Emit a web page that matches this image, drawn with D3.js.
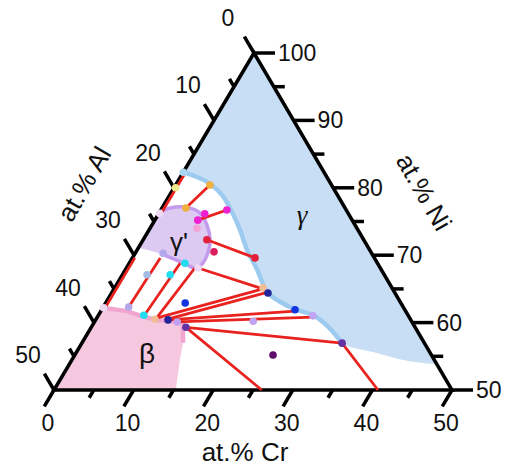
<!DOCTYPE html>
<html>
<head>
<meta charset="utf-8">
<script src="https://cdn.jsdelivr.net/npm/d3@7"></script>
<style>
  body { margin: 0; background: #fff; }
  text { font-family: "Liberation Sans", Arial, sans-serif; fill: #111; }
</style>
</head>
<body>
<svg id="chart" width="508" height="468"></svg>
<script>
// compositions are [at.% Cr, at.% Al], Ni is the balance
const gammaLine = [[0,17.7],[2.1,16.3],[4.2,15.2],[6.6,14.5],[9.1,14.5],[11.4,14.8],[13.8,15.4],[16.6,15.6],
  [18.9,16.0],[20.2,15.8],[21.8,15.1],[24.2,13.8],[27.0,11.9],[29.7,10.9],[32.7,10.35]];
const gammaEdge = [[37.8,6.7],[41.6,3.95],[44.9,1.15],[46.1,0]];
const gammaPrime = [[0,23.7],[1.0,22.0],[3.1,19.8],[5.15,18.6],[6.9,18.6],[8.4,19.3],[9.1,20.5],[9.2,22.1],
  [8.6,23.3],[7.1,24.2],[3.6,26.3],[0,28.9]];
const betaLine = [[0,37.8],[3.3,35.0],[5.7,33.4],[7.7,31.9],[9.7,30.1],[11.1,28.8],[12.7,30.3]];
const betaEdge = [[13.6,32.0],[15.3,34.7]];

const tieLines = [
  [[0.3,17.8],[0.3,23.6]],
  [[4.3,15.3],[3.0,20.0]],
  [[8.3,15.0],[5.4,19.4]],
  [[8.0,19.7],[15.4,15.0]],
  [[9.0,22.9],[18.7,16.3]],
  [[0.3,30.1],[0.3,37.5]],
  [[3.5,26.9],[3.2,34.5]],
  [[6.4,24.8],[5.8,33.0]],
  [[8.6,23.3],[7.5,31.9]],
  [[7.6,31.7],[18.7,16.3]],
  [[8.7,30.9],[19.3,16.3]],
  [[9.1,30.5],[24.4,13.9]],
  [[10.4,29.5],[27.1,12.1]],
  [[11.9,28.8],[32.7,10.35]],
  [[11.9,28.8],[26.1,23.9]],
  [[32.7,10.35],[40.7,9.3]]
];

// [Cr, Al, alloy]
const samples = [
  [0,17.7,'a'],[0.2,19.8,'b'],[0.1,23.7,'c'],[4.3,15.3,'d'],[3.0,20.0,'d'],
  [8.3,15.0,'e'],[5.8,18.05,'e'],[5.4,19.4,'e'],[5.9,20.1,'f'],
  [8.0,19.7,'g'],[15.4,15.0,'g'],[9.8,19.7,'h'],[9.0,22.9,'c'],[0.1,37.7,'c'],
  [3.5,26.2,'i'],[3.2,34.5,'i'],[3.1,29.8,'j'],
  [6.0,26.9,'k'],[7.0,24.2,'k'],[5.7,33.2,'k'],
  [7.4,32.1,'l'],[18.65,16.2,'l'],[19.65,15.96,'m'],[9.1,30.5,'m'],
  [24.3,13.8,'n'],[10.0,27.1,'n'],
  [27.0,12.0,'o'],[10.4,29.5,'o'],[19.9,19.9,'o'],
  [32.7,10.35,'p'],[11.9,28.8,'p'],[24.9,19.9,'q']
];
const alloys = ['a','b','c','d','e','f','g','h','i','j','k','l','m','n','o','p','q'];
const alloyColors = ['#a9d7f2','#f2e88e','#efd9f2','#f0b040','#ee22d2','#f2a2d4','#e2203c','#d81e5c',
  '#b3a9ea','#a3bbe2','#22dcf0','#f2bc94','#22249a','#1234e0','#c2a2f2','#6432a2','#5e0e6a'];

const tickValues = d3.range(0, 51, 5);

const svg = d3.select('#chart');

// ternary frame: Ni 50..100 vertical, Cr along the base
const yNi = d3.scaleLinear().domain([50, 100]).range([390, 53]);
const xNi = d3.scaleLinear().domain([50, 100]).range([54, 254]);
const xCr = d3.scaleLinear().domain([0, 50]).range([0, 398]);
const color = d3.scaleOrdinal().domain(alloys).range(alloyColors);

function proj(d) {
  const ni = 100 - d[0] - d[1];
  return [xNi(ni) + xCr(d[0]), yNi(ni)];
}
const line = d3.line().x(d => proj(d)[0]).y(d => proj(d)[1]);
const smooth = d3.line().x(d => proj(d)[0]).y(d => proj(d)[1]).curve(d3.curveCatmullRom);

const TOP = proj([0,0]), BL = proj([0,50]), BR = proj([50,0]);

// phase fields
svg.append('path')
  .attr('d', 'M' + TOP + 'L' + smooth(gammaLine.concat(gammaEdge)).slice(1) + 'Z')
  .attr('fill', '#c8def4');
svg.append('path')
  .attr('d', line(betaLine.concat(betaEdge, [[0,50]])) + 'Z')
  .attr('fill', '#f5c8e0');
svg.append('path')
  .attr('d', smooth(gammaPrime) + 'Z')
  .attr('fill', '#dccaf3');

// frame and ticks
svg.append('path')
  .attr('d', 'M' + TOP + 'L' + BL + 'L' + BR + 'Z')
  .attr('fill', 'none').attr('stroke', '#000').attr('stroke-width', 3.5);

function unit(a, b) {
  const dx = b[0] - a[0], dy = b[1] - a[1], l = Math.hypot(dx, dy);
  return [dx / l, dy / l];
}
const dirAl = unit(BR, TOP), dirCr = unit(TOP, BL);
const ticks = svg.append('g').attr('stroke', '#000').attr('stroke-width', 3.5);
const labels = svg.append('g').attr('font-size', 23);

tickValues.forEach(v => {
  const len = v % 10 === 0 ? 19 : 9;
  // Al (left side)
  let p = proj([0, v]);
  ticks.append('line').attr('x1', p[0]).attr('y1', p[1])
    .attr('x2', p[0] + dirAl[0] * len).attr('y2', p[1] + dirAl[1] * len);
  if (v % 10 === 0) labels.append('text').attr('x', p[0] - 26).attr('y', p[1] - 35)
    .attr('dy', '0.35em').attr('text-anchor', 'middle').text(v);
  // Ni (right side), Ni = 100 - v here
  p = proj([v, 0]);
  ticks.append('line').attr('x1', p[0]).attr('y1', p[1])
    .attr('x2', p[0] + len + 2).attr('y2', p[1]);
  if (v % 10 === 0) labels.append('text').attr('x', p[0] + 24).attr('y', p[1])
    .attr('dy', '0.35em').text(100 - v);
  // Cr (base)
  p = proj([v, 50 - v]);
  ticks.append('line').attr('x1', p[0]).attr('y1', p[1])
    .attr('x2', p[0] + dirCr[0] * len).attr('y2', p[1] + dirCr[1] * len);
  if (v % 10 === 0) labels.append('text').attr('x', p[0] - 6).attr('y', p[1] + 33)
    .attr('dy', '0.35em').attr('text-anchor', 'middle').text(v);
});

// phase boundaries
svg.append('path').attr('d', smooth(gammaLine))
  .attr('fill', 'none').attr('stroke', '#9ccbef').attr('stroke-width', 4.5).attr('stroke-linecap', 'round');
svg.append('path').attr('d', smooth(gammaPrime.slice(0, -1)))
  .attr('fill', 'none').attr('stroke', '#c39aec').attr('stroke-width', 3.5);
svg.append('path').attr('d', line(betaLine))
  .attr('fill', 'none').attr('stroke', '#f2a6cf').attr('stroke-width', 4.5);

// tie lines
svg.append('g').selectAll('line').data(tieLines).join('line')
  .attr('x1', d => proj(d[0])[0]).attr('y1', d => proj(d[0])[1])
  .attr('x2', d => proj(d[1])[0]).attr('y2', d => proj(d[1])[1])
  .attr('stroke', '#e8231f').attr('stroke-width', 2.8);

// measured compositions
svg.append('g').selectAll('circle').data(samples).join('circle')
  .attr('cx', d => proj(d)[0]).attr('cy', d => proj(d)[1])
  .attr('r', 3.8).attr('fill', d => color(d[2]));

// phase names
svg.append('text').attr('x', 302).attr('y', 215).attr('dy', '0.35em').attr('text-anchor', 'middle')
  .attr('font-size', 27).attr('font-style', 'italic').style('font-family', '"Liberation Serif", serif').text('γ');
svg.append('text').attr('x', 179).attr('y', 242).attr('dy', '0.35em').attr('text-anchor', 'middle')
  .attr('font-size', 26).text("γ'");
svg.append('text').attr('x', 147).attr('y', 353).attr('dy', '0.35em').attr('text-anchor', 'middle')
  .attr('font-size', 28).text('β');

// axis titles
svg.append('text').attr('transform', 'translate(84,184) rotate(-60)').attr('dy', '0.35em')
  .attr('text-anchor', 'middle').attr('font-size', 26).text('at.% Al');
svg.append('text').attr('transform', 'translate(424,192) rotate(60)').attr('dy', '0.35em')
  .attr('text-anchor', 'middle').attr('font-size', 26).text('at.% Ni');
svg.append('text').attr('x', 245).attr('y', 452).attr('dy', '0.35em')
  .attr('text-anchor', 'middle').attr('font-size', 26).text('at.% Cr');
</script>
</body>
</html>
